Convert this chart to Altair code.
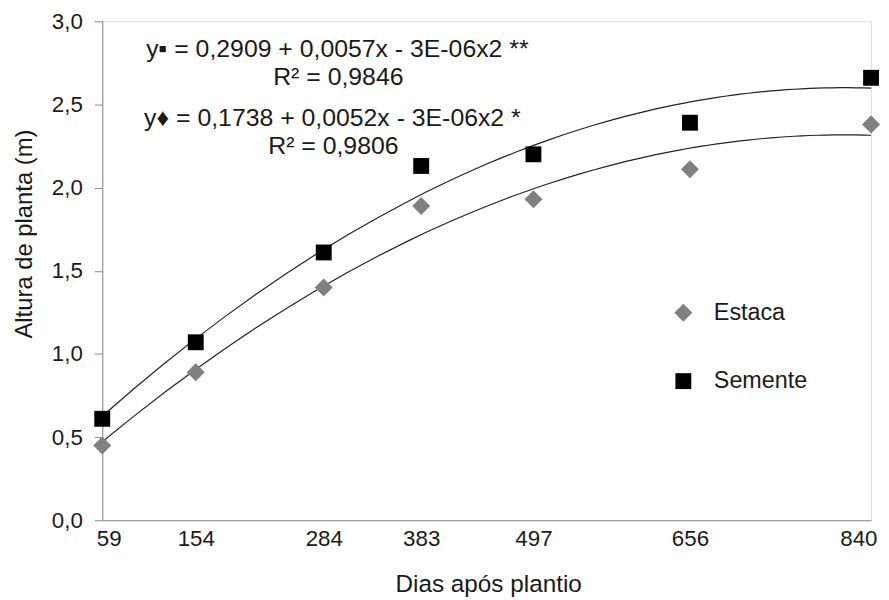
import altair as alt
import pandas as pd

# ---- data ----
dias = [59, 154, 284, 383, 497, 656, 840]
estaca = [0.45, 0.89, 1.40, 1.89, 1.93, 2.11, 2.38]
semente = [0.61, 1.07, 1.61, 2.13, 2.20, 2.39, 2.66]
series = ["Estaca", "Semente"]
y_ticks = [0.0, 0.5, 1.0, 1.5, 2.0, 2.5, 3.0]
eq_lines = [
    "y\u25aa = 0,2909 + 0,0057x - 3E-06x2 **",
    "R\u00b2 = 0,9846",
    "y\u2666 = 0,1738 + 0,0052x - 3E-06x2 *",
    "R\u00b2 = 0,9806",
]

rows = []
for d, e, s in zip(dias, estaca, semente):
    rows.append({"dias": d, "altura": e, "serie": series[0]})
    rows.append({"dias": d, "altura": s, "serie": series[1]})
df = pd.DataFrame(rows)

FONT = "Liberation Sans"
W, H = 775, 503
TXT = "#1a1a1a"

x_enc = alt.X(
    "dias:Q",
    scale=alt.Scale(domain=[59, 840], nice=False, zero=False),
    axis=alt.Axis(
        values=dias,
        title="Dias após plantio",
        ticks=False,
        tickSize=0,
        grid=False,
        labelFontSize=22.5,
        labelFont=FONT,
        labelColor=TXT,
        labelBaseline="alphabetic",
        labelPadding=25,
        labelFlush=True,
        labelFlushOffset=6,
        labelOverlap=False,
        titleFontSize=24.5,
        titleFont=FONT,
        titleFontWeight="normal",
        titleColor=TXT,
        titleX=389,
        titleY=72,
        titleAlign="center",
        titleBaseline="alphabetic",
        domainColor="#888888",
    ),
)
y_enc = alt.Y(
    "altura:Q",
    scale=alt.Scale(domain=[0, 3], nice=False),
    axis=alt.Axis(
        values=y_ticks,
        labelExpr="replace(format(datum.value, '.1f'), '.', ',')",
        title="Altura de planta (m)",
        grid=False,
        tickSize=8,
        tickColor="#888888",
        domainColor="#888888",
        labelFontSize=22.5,
        labelFont=FONT,
        labelColor=TXT,
        labelPadding=12,
        titleFontSize=24,
        titleFont=FONT,
        titleFontWeight="normal",
        titleColor=TXT,
        titleAngle=270,
        titleX=-78,
        titleY=214,
        titleAlign="center",
        titleBaseline="middle",
    ),
)

base = alt.Chart(df)

curves = (
    base.transform_regression("dias", "altura", method="poly", order=2, groupby=["serie"])
    .mark_line(color="#222222", strokeWidth=1.2)
    .encode(x=x_enc, y=y_enc, detail="serie:N")
)

points = base.mark_point(filled=True, opacity=1).encode(
    x=x_enc,
    y=y_enc,
    color=alt.Color(
        "serie:N",
        scale=alt.Scale(domain=series, range=["#808080", "#000000"]),
        legend=alt.Legend(
            title=None,
            orient="none",
            legendX=574,
            legendY=282,
            padding=0,
            labelFontSize=23.5,
            labelFont=FONT,
            labelColor=TXT,
            labelOffset=19,
            symbolSize=280,
            symbolStrokeWidth=0,
            rowPadding=44,
        ),
    ),
    shape=alt.Shape(
        "serie:N",
        scale=alt.Scale(domain=series, range=["diamond", "square"]),
        legend=alt.Legend(title=None, orient="none", legendX=574, legendY=282),
    ),
    size=alt.Size("serie:N", scale=alt.Scale(domain=series, range=[330, 256]), legend=None),
)

eq_pos = [(237, 36), (238, 64), (232, 106), (233, 134)]
eq_layers = []
for txt, (px, py) in zip(eq_lines, eq_pos):
    eq_layers.append(
        alt.Chart(pd.DataFrame({"t": [txt]}))
        .mark_text(font=FONT, fontSize=25, color=TXT, align="center", baseline="alphabetic")
        .encode(x=alt.value(px), y=alt.value(py), text="t:N")
    )

chart = (
    alt.layer(curves, points, *eq_layers)
    .properties(
        width=W,
        height=H,
        autosize=alt.AutoSizeParams(type="none"),
        padding={"left": 95, "top": 11, "right": 10, "bottom": 76},
    )
    .configure_view(stroke=None)
    .configure(background="white")
)

chart.save("out.html", embed_options={"renderer": "svg", "actions": False})
